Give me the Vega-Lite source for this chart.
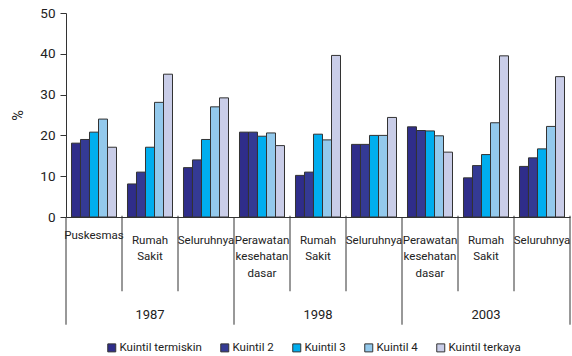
{
  "$schema": "https://vega.github.io/schema/vega-lite/v6.json",
  "width": 504,
  "height": 204,
  "autosize": {"type": "none"},
  "padding": {"left": 66, "top": 13, "right": 2, "bottom": 139},
  "background": "white",
  "config": {
    "font": "Roboto, Liberation Sans, sans-serif",
    "view": {"stroke": null},
    "axis": {"grid": false, "domainColor": "#333", "tickColor": "#333", "labelColor": "#222", "titleColor": "#222", "titleFontWeight": "normal"},
    "axisY": {"labelOverlap": false, "tickSize": 6, "labelPadding": 5, "labelFontSize": 13.5, "titleFontSize": 14.5, "titlePadding": 14}
  },
  "data": {
    "values": [
      {"group": "1987 Puskesmas", "year": "1987", "category": "Puskesmas", "quintile": "Kuintil termiskin", "value": 18.1},
      {"group": "1987 Puskesmas", "year": "1987", "category": "Puskesmas", "quintile": "Kuintil 2", "value": 19.0},
      {"group": "1987 Puskesmas", "year": "1987", "category": "Puskesmas", "quintile": "Kuintil 3", "value": 20.8},
      {"group": "1987 Puskesmas", "year": "1987", "category": "Puskesmas", "quintile": "Kuintil 4", "value": 24.0},
      {"group": "1987 Puskesmas", "year": "1987", "category": "Puskesmas", "quintile": "Kuintil terkaya", "value": 17.1},
      {"group": "1987 Rumah Sakit", "year": "1987", "category": "Rumah Sakit", "quintile": "Kuintil termiskin", "value": 8.1},
      {"group": "1987 Rumah Sakit", "year": "1987", "category": "Rumah Sakit", "quintile": "Kuintil 2", "value": 11.0},
      {"group": "1987 Rumah Sakit", "year": "1987", "category": "Rumah Sakit", "quintile": "Kuintil 3", "value": 17.1},
      {"group": "1987 Rumah Sakit", "year": "1987", "category": "Rumah Sakit", "quintile": "Kuintil 4", "value": 28.1},
      {"group": "1987 Rumah Sakit", "year": "1987", "category": "Rumah Sakit", "quintile": "Kuintil terkaya", "value": 35.0},
      {"group": "1987 Seluruhnya", "year": "1987", "category": "Seluruhnya", "quintile": "Kuintil termiskin", "value": 12.1},
      {"group": "1987 Seluruhnya", "year": "1987", "category": "Seluruhnya", "quintile": "Kuintil 2", "value": 14.0},
      {"group": "1987 Seluruhnya", "year": "1987", "category": "Seluruhnya", "quintile": "Kuintil 3", "value": 19.0},
      {"group": "1987 Seluruhnya", "year": "1987", "category": "Seluruhnya", "quintile": "Kuintil 4", "value": 27.0},
      {"group": "1987 Seluruhnya", "year": "1987", "category": "Seluruhnya", "quintile": "Kuintil terkaya", "value": 29.2},
      {"group": "1998 Perawatan kesehatan dasar", "year": "1998", "category": "Perawatan kesehatan dasar", "quintile": "Kuintil termiskin", "value": 20.8},
      {"group": "1998 Perawatan kesehatan dasar", "year": "1998", "category": "Perawatan kesehatan dasar", "quintile": "Kuintil 2", "value": 20.8},
      {"group": "1998 Perawatan kesehatan dasar", "year": "1998", "category": "Perawatan kesehatan dasar", "quintile": "Kuintil 3", "value": 19.8},
      {"group": "1998 Perawatan kesehatan dasar", "year": "1998", "category": "Perawatan kesehatan dasar", "quintile": "Kuintil 4", "value": 20.6},
      {"group": "1998 Perawatan kesehatan dasar", "year": "1998", "category": "Perawatan kesehatan dasar", "quintile": "Kuintil terkaya", "value": 17.5},
      {"group": "1998 Rumah Sakit", "year": "1998", "category": "Rumah Sakit", "quintile": "Kuintil termiskin", "value": 10.2},
      {"group": "1998 Rumah Sakit", "year": "1998", "category": "Rumah Sakit", "quintile": "Kuintil 2", "value": 11.0},
      {"group": "1998 Rumah Sakit", "year": "1998", "category": "Rumah Sakit", "quintile": "Kuintil 3", "value": 20.3},
      {"group": "1998 Rumah Sakit", "year": "1998", "category": "Rumah Sakit", "quintile": "Kuintil 4", "value": 18.9},
      {"group": "1998 Rumah Sakit", "year": "1998", "category": "Rumah Sakit", "quintile": "Kuintil terkaya", "value": 39.6},
      {"group": "1998 Seluruhnya", "year": "1998", "category": "Seluruhnya", "quintile": "Kuintil termiskin", "value": 17.8},
      {"group": "1998 Seluruhnya", "year": "1998", "category": "Seluruhnya", "quintile": "Kuintil 2", "value": 17.8},
      {"group": "1998 Seluruhnya", "year": "1998", "category": "Seluruhnya", "quintile": "Kuintil 3", "value": 20.0},
      {"group": "1998 Seluruhnya", "year": "1998", "category": "Seluruhnya", "quintile": "Kuintil 4", "value": 20.0},
      {"group": "1998 Seluruhnya", "year": "1998", "category": "Seluruhnya", "quintile": "Kuintil terkaya", "value": 24.4},
      {"group": "2003 Perawatan kesehatan dasar", "year": "2003", "category": "Perawatan kesehatan dasar", "quintile": "Kuintil termiskin", "value": 22.1},
      {"group": "2003 Perawatan kesehatan dasar", "year": "2003", "category": "Perawatan kesehatan dasar", "quintile": "Kuintil 2", "value": 21.2},
      {"group": "2003 Perawatan kesehatan dasar", "year": "2003", "category": "Perawatan kesehatan dasar", "quintile": "Kuintil 3", "value": 21.1},
      {"group": "2003 Perawatan kesehatan dasar", "year": "2003", "category": "Perawatan kesehatan dasar", "quintile": "Kuintil 4", "value": 19.9},
      {"group": "2003 Perawatan kesehatan dasar", "year": "2003", "category": "Perawatan kesehatan dasar", "quintile": "Kuintil terkaya", "value": 15.9},
      {"group": "2003 Rumah Sakit", "year": "2003", "category": "Rumah Sakit", "quintile": "Kuintil termiskin", "value": 9.6},
      {"group": "2003 Rumah Sakit", "year": "2003", "category": "Rumah Sakit", "quintile": "Kuintil 2", "value": 12.6},
      {"group": "2003 Rumah Sakit", "year": "2003", "category": "Rumah Sakit", "quintile": "Kuintil 3", "value": 15.3},
      {"group": "2003 Rumah Sakit", "year": "2003", "category": "Rumah Sakit", "quintile": "Kuintil 4", "value": 23.1},
      {"group": "2003 Rumah Sakit", "year": "2003", "category": "Rumah Sakit", "quintile": "Kuintil terkaya", "value": 39.5},
      {"group": "2003 Seluruhnya", "year": "2003", "category": "Seluruhnya", "quintile": "Kuintil termiskin", "value": 12.4},
      {"group": "2003 Seluruhnya", "year": "2003", "category": "Seluruhnya", "quintile": "Kuintil 2", "value": 14.5},
      {"group": "2003 Seluruhnya", "year": "2003", "category": "Seluruhnya", "quintile": "Kuintil 3", "value": 16.7},
      {"group": "2003 Seluruhnya", "year": "2003", "category": "Seluruhnya", "quintile": "Kuintil 4", "value": 22.2},
      {"group": "2003 Seluruhnya", "year": "2003", "category": "Seluruhnya", "quintile": "Kuintil terkaya", "value": 34.4}
    ]
  },
  "encoding": {
    "x": {
      "field": "group",
      "type": "nominal",
      "sort": null,
      "scale": {"paddingInner": 0, "paddingOuter": 0},
      "axis": {
        "title": null,
        "ticks": false,
        "tickSize": 0,
        "labelAngle": 0,
        "labelAlign": "center",
        "labelBaseline": "top",
        "labelFontSize": 11.5,
        "labelLineHeight": 16.5,
        "labelPadding": {"condition": {"test": "indexof(datum.value, 'Puskesmas') >= 0", "value": 12}, "value": 17},
        "labelExpr": "split(slice(datum.value, 5), ' ')",
        "labelLimit": 0,
        "labelOverlap": false,
        "domainWidth": 1
      }
    }
  },
  "layer": [
    {
      "mark": {"type": "bar", "stroke": "#333", "strokeWidth": 1},
      "encoding": {
        "xOffset": {"field": "quintile", "type": "nominal", "sort": null, "scale": {"paddingInner": 0, "paddingOuter": 0.611}},
        "y": {
          "field": "value",
          "type": "quantitative",
          "scale": {"domain": [0, 50]},
          "axis": {
            "title": "%",
            "values": [0, 10, 20, 30, 40, 50]
          }
        },
        "color": {
          "field": "quintile",
          "type": "nominal",
          "sort": null,
          "scale": {
            "domain": ["Kuintil termiskin", "Kuintil 2", "Kuintil 3", "Kuintil 4", "Kuintil terkaya"],
            "range": ["#2f2d8a", "#343a94", "#00aeef", "#93c9ec", "#c9cde8"]
          },
          "legend": {
            "title": null,
            "orient": "none",
            "direction": "horizontal",
            "legendX": 40,
            "legendY": 329,
            "symbolType": "square",
            "symbolSize": 64,
            "symbolStrokeColor": "#333",
            "symbolStrokeWidth": 1,
            "labelFontSize": 11.5,
            "labelColor": "#222",
            "labelOffset": 2,
            "columnPadding": 16
          }
        }
      }
    },
    {
      "transform": [
        {"filter": "datum.quintile == 'Kuintil termiskin' && (datum.category == 'Rumah Sakit' || datum.category == 'Seluruhnya')"}
      ],
      "mark": {"type": "rule", "color": "#333", "strokeWidth": 1},
      "encoding": {
        "x": {"field": "group", "type": "nominal", "sort": null, "bandPosition": 0},
        "y": {"datum": 0.3},
        "y2": {"datum": -18.2}
      }
    },
    {
      "transform": [
        {"filter": "datum.quintile == 'Kuintil termiskin' && (datum.category == 'Puskesmas' || datum.category == 'Perawatan kesehatan dasar')"}
      ],
      "mark": {"type": "rule", "color": "#333", "strokeWidth": 1},
      "encoding": {
        "x": {"field": "group", "type": "nominal", "sort": null, "bandPosition": 0},
        "y": {"datum": 0},
        "y2": {"datum": -26.4}
      }
    },
    {
      "transform": [
        {"filter": "datum.quintile == 'Kuintil termiskin' && datum.group == '2003 Seluruhnya'"}
      ],
      "mark": {"type": "rule", "color": "#333", "strokeWidth": 1},
      "encoding": {
        "x": {"field": "group", "type": "nominal", "sort": null, "bandPosition": 1},
        "y": {"datum": 0.3},
        "y2": {"datum": -26.4}
      }
    },
    {
      "transform": [
        {"filter": "datum.quintile == 'Kuintil termiskin' && datum.category == 'Rumah Sakit'"}
      ],
      "mark": {"type": "text", "fontSize": 13, "color": "#222", "baseline": "middle", "align": "center"},
      "encoding": {
        "x": {"field": "group", "type": "nominal", "sort": null},
        "y": {"datum": -23.9},
        "text": {"field": "year", "type": "nominal"}
      }
    }
  ]
}
